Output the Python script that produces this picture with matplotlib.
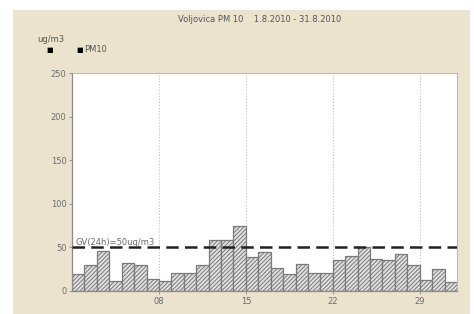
import numpy as np
import matplotlib
matplotlib.use("Agg")
import matplotlib.pyplot as plt
from matplotlib.patches import Rectangle

# daily PM10, August 2010
days = np.arange(1, 32)
pm10 = [20, 30, 46, 12, 32, 30, 14, 11, 21, 21, 30, 59, 59, 75, 39, 45,
        26, 20, 31, 21, 21, 36, 40, 51, 37, 36, 42, 30, 13, 25, 10]
limit = 50
xticks = [8, 15, 22, 29]
xtick_labels = ['08', '15', '22', '29']
yticks = [0, 50, 100, 150, 200, 250]

beige = '#ece3cf'
grey_txt = '#6b6b6b'

plt.rcParams['hatch.linewidth'] = 0.7
plt.rcParams['hatch.color'] = '#7a7a7a'

fig = plt.figure(figsize=(4.74, 3.14), dpi=100)
fig.patch.set_facecolor('white')
fig.patches.append(Rectangle((13 / 474, 0), (470 - 13) / 474, (314 - 10) / 314,
                             transform=fig.transFigure, facecolor=beige,
                             edgecolor='none', zorder=-10))

ax = fig.add_axes([72 / 474, 23 / 314, (457 - 72) / 474, (291 - 73) / 314])
ax.set_facecolor('white')

ax.bar(days, pm10, width=1.0, align='edge', color='#e0e0e0',
       edgecolor='#7a7a7a', linewidth=0.9, hatch='////////', zorder=2)
ax.axhline(limit, color='#222222', linestyle=(0, (5, 2.5)), linewidth=1.8, zorder=3)
ax.text(1.3, limit + 3, 'GV(24h)=50ug/m3', fontsize=6, color=grey_txt, zorder=4)

for x in xticks:
    ax.axvline(x, color='#c0c0c0', linestyle=':', linewidth=0.8, zorder=1)

ax.set_xlim(1, 32)
ax.set_ylim(0, 250)
ax.set_xticks(xticks)
ax.set_xticklabels(xtick_labels)
ax.set_yticks(yticks)
ax.tick_params(labelsize=6, colors='#8a8a8a', labelcolor=grey_txt,
               length=2, width=0.6, pad=2)
for side in ['left', 'bottom']:
    ax.spines[side].set_color('#8a8a8a')
    ax.spines[side].set_linewidth(0.9)
for side in ['top', 'right']:
    ax.spines[side].set_color('#b0b0b0')
    ax.spines[side].set_linewidth(0.6)

fig.text(260 / 474, 1 - 20 / 314, 'Voljovica PM 10    1.8.2010 - 31.8.2010',
         ha='center', va='center', fontsize=6, color='#555555')
fig.text(37 / 474, 1 - 40 / 314, 'ug/m3', ha='left', va='center',
         fontsize=6, color='#555555')
fig.text(50 / 474, 1 - 50 / 314, '\u25a0', ha='center', va='center',
         fontsize=5, color='black')
fig.text(80 / 474, 1 - 50 / 314, '\u25a0', ha='center', va='center',
         fontsize=5, color='black')
fig.text(84 / 474, 1 - 50 / 314, 'PM10', ha='left', va='center',
         fontsize=6, color='#555555')

fig.savefig('out.png', dpi=100, facecolor=fig.get_facecolor())
